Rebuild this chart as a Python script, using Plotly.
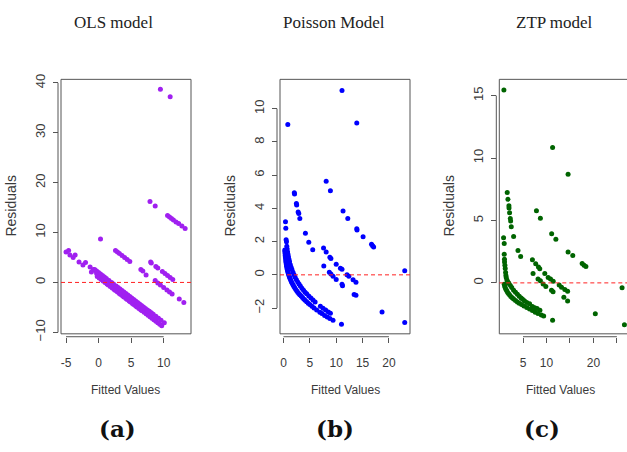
import plotly.graph_objects as go

W, H = 627, 452

# ---------------- data ----------------
titles = ["OLS model", "Poisson Model", "ZTP model"]
panel_labels = ["(a)", "(b)", "(c)"]
x_title = "Fitted Values"
y_title = "Residuals"

ols_fitted = [
    -5.0, -4.6, -4.4, -3.9, -3.6, -3.0, -2.4, -2.0, -1.3, -1.1, -0.8, -0.5, -0.3,
    -0.2, 0.1, 0.4, 0.7, 1.0, 1.3, 1.5, 1.8, 2.1, 2.4, 2.6, 2.9, 3.2, 3.4, 3.7, 3.9, 4.2, 4.4, 4.7, 4.9,
    5.2, 5.4, 5.7, 5.9, 6.2, 6.5, 6.7, 7.0, 7.3, 7.6, 7.9, 8.2, 8.5, 8.8, 9.1, 9.4, 9.7,
    -0.6, -0.3, 0.0, 0.3, 0.6, 0.9, 1.2, 1.6, 2.0, 2.3, 2.7, 3.0, 3.3, 3.6, 3.9, 4.2, 4.5, 4.8, 5.1, 5.4,
    5.7, 6.0, 6.3, 6.6, 6.9, 7.2, 7.5, 7.8, 8.1, 8.4, 8.8, 9.2, 9.6, 10.1,
    0.3, 2.6, 2.9, 3.2, 3.6, 4.0, 4.4, 4.8, 6.5, 6.8, 7.3,
    8.0, 8.1, 8.8, 9.1, 9.8, 10.2, 10.6, 11.0, 11.4,
    8.7, 9.1, 9.5, 10.0, 10.5, 10.9, 11.3, 12.4, 13.1,
    7.9, 8.7, 10.6, 10.9, 11.2, 11.5, 11.9, 12.3, 12.8, 13.3,
    9.5, 11.0,
]
ols_resid = [
    6.1, 6.4, 5.5, 5.0, 5.5, 4.1, 3.5, 4.0, 3.1, 2.1, 2.6, 2.4, 1.8,
    1.2, 0.9, 0.6, 0.3, 0.0, -0.3, -0.5, -0.8, -1.1, -1.4, -1.6, -1.9, -2.2, -2.4, -2.7, -2.9, -3.2, -3.4, -3.7, -3.9,
    -4.2, -4.4, -4.7, -4.9, -5.2, -5.5, -5.7, -6.0, -6.3, -6.6, -6.9, -7.2, -7.5, -7.8, -8.1, -8.4, -8.7,
    2.6, 2.3, 2.0, 1.7, 1.4, 1.1, 0.8, 0.4, 0.0, -0.3, -0.7, -1.0, -1.3, -1.6, -1.9, -2.2, -2.5, -2.8, -3.1, -3.4,
    -3.7, -4.0, -4.3, -4.6, -4.9, -5.2, -5.5, -5.8, -6.1, -6.4, -6.8, -7.2, -7.6, -8.1,
    8.7, 6.4, 6.1, 5.8, 5.4, 5.0, 4.6, 4.2, 2.6, 2.3, 1.5,
    4.1, 3.9, 3.2, 2.9, 2.2, 1.8, 1.4, 1.0, 0.6,
    0.4, -0.1, -0.5, -1.0, -1.5, -1.9, -2.3, -3.3, -4.0,
    16.2, 15.3, 13.4, 13.1, 12.8, 12.5, 12.1, 11.8, 11.3, 10.8,
    38.7, 37.2,
]

pois_fitted = [
    0.25, 0.27, 0.30, 0.33, 0.36, 0.40, 0.45, 0.50, 0.55, 0.60, 0.66, 0.72, 0.80, 0.88, 0.96,
    1.05, 1.15, 1.25, 1.38, 1.5, 1.65, 1.8, 1.95, 2.1, 2.3, 2.5, 2.7, 2.9, 3.1, 3.35,
    3.6, 3.85, 4.1, 4.4, 4.7, 5.0, 5.4, 5.8, 6.3, 6.9, 7.3, 7.8, 8.3, 8.8, 9.4,
    0.38, 0.44, 0.50, 0.57, 0.63, 0.70, 0.78, 0.86, 0.95, 1.05, 1.15, 1.3, 1.45, 1.6, 1.8, 2.0, 2.2,
    2.45, 2.7, 2.95, 3.2, 3.5, 3.8, 4.1, 4.4, 4.8, 5.2, 5.6, 6.0, 7.0, 7.5, 8.0, 8.5, 8.9,
    0.82, 2.05, 2.1, 2.45, 2.5, 2.78, 2.9, 3.1, 4.16, 4.8, 5.55, 7.65, 8.7, 9.0, 9.4, 10.0,
    11.1, 11.2, 13.4, 13.75, 18.7, 23.0,
    7.6, 8.1, 8.8, 9.0, 10.0, 10.8, 11.1, 12.05, 12.4, 13.2, 13.75,
    8.1, 8.9, 11.3, 12.2, 13.9, 13.95, 15.1, 16.7, 16.9, 17.1, 23.0,
    11.1, 13.9,
    11.0,
]
pois_resid = [
    1.50, 1.40, 1.28, 1.17, 1.07, 0.95, 0.82, 0.71, 0.61, 0.52, 0.42, 0.33, 0.22, 0.13, 0.04,
    -0.05, -0.14, -0.22, -0.32, -0.41, -0.51, -0.60, -0.68, -0.76, -0.86, -0.95, -1.04, -1.12, -1.19, -1.28,
    -1.37, -1.45, -1.53, -1.62, -1.71, -1.79, -1.89, -1.99, -2.11, -2.25, -2.33, -2.44, -2.53, -2.63, -2.74,
    3.20, 2.81, 2.12, 2.00, 1.73, 1.55, 1.38, 1.23, 1.08, 0.93, 0.79, 0.61, 0.46, 0.32, 0.15, 0.0, -0.14,
    -0.29, -0.43, -0.55, -0.67, -0.80, -0.92, -1.04, -1.14, -1.28, -1.40, -1.52, -1.63, -1.89, -2.01, -2.12, -2.23, -2.31,
    9.05, 4.95, 4.87, 4.30, 4.20, 3.79, 3.70, 3.40, 2.50, 1.96, 1.51, 0.53, 0.15, 0.05, -0.08, -0.28,
    -0.57, -0.65, -1.18, -1.23, -2.24, -2.87,
    1.61, 1.37, 1.06, 0.98, 0.64, 0.40, 0.34, 0.0, -0.08, -0.30, -0.45,
    5.63, 5.07, 3.84, 3.40, 2.77, 2.70, 2.29, 1.84, 1.76, 1.68, 0.25,
    11.1, 9.15,
    -2.98,
]

ztp_fitted = [
    0.86, 1.0, 1.0, 1.05, 1.07, 1.14, 1.21, 1.29, 1.36, 1.43, 1.57, 1.7, 1.85,
    2.0, 2.3, 2.6, 3.0, 3.4, 3.8, 4.2, 4.6, 4.9, 5.3, 5.8, 6.4, 7.0, 7.5, 8.0, 8.6,
    1.0, 1.1, 1.2, 1.35, 1.5, 1.7, 1.9, 2.15, 2.4, 2.7, 3.0, 3.4, 3.8, 4.2, 4.7, 5.2, 5.8, 6.4,
    7.0, 7.6, 8.2, 8.9, 9.4,
    0.93,
    1.64, 1.79, 2.0, 2.02, 2.14, 2.29, 2.36, 2.5, 3.0, 3.93, 4.5, 7.14, 8.2, 8.7, 9.29, 9.86,
    11.07, 11.4, 13.7, 14.5, 20.4, 26.6,
    7.0, 7.7, 8.29, 8.57, 9.64, 10.36, 10.86, 11.43, 12.7, 13.2, 13.9, 14.5,
    7.86, 8.7, 11.1, 12.0, 14.6, 15.6, 17.6, 18.0, 18.4, 26.1,
    11.3, 14.6,
    11.3,
]
ztp_resid = [
    3.62, 3.15, 2.30, 1.90, 1.68, 1.42, 1.16, 0.83, 0.60, 0.44, 0.23, 0.12, 0.04,
    -0.05, -0.20, -0.37, -0.58, -0.76, -0.92, -1.07, -1.21, -1.32, -1.43, -1.57, -1.68, -1.89, -2.00, -2.05, -2.20,
    -0.10, -0.25, -0.37, -0.50, -0.62, -0.75, -0.86, -0.98, -1.09, -1.20, -1.30, -1.42, -1.53, -1.63, -1.74, -1.86, -1.98, -2.10,
    -2.22, -2.35, -2.46, -2.58, -2.66,
    15.44,
    7.24, 6.70, 6.18, 6.00, 5.61, 5.15, 4.96, 4.50, 3.72, 2.59, 2.12, 0.75, 0.31, 0.18, -0.08, -0.28,
    -0.60, -0.72, -1.16, -1.45, -2.48, -3.36,
    1.86, 1.53, 1.27, 1.14, 0.75, 0.44, 0.31, 0.13, -0.16, -0.34, -0.52, -0.67,
    5.77, 5.17, 3.93, 3.49, 2.48, 2.20, 1.55, 1.42, 1.32, -0.39,
    10.84, 8.71,
    -3.0,
]

ols_xticks = [-5, 0, 5, 10]
ols_yticks = [-10, 0, 10, 20, 30, 40]
pois_xticks = [0, 5, 10, 15, 20]
pois_yticks = [-2, 0, 2, 4, 6, 8, 10]
ztp_xticks = [5, 10, 15, 20, 25]
ztp_xticklabels = ["5", "10", "", "20", ""]
ztp_yticks = [0, 5, 10, 15]

# ---------------- layout helpers (pixel -> paper) ----------------
def fx(px):
    return px / W

def fy(py):
    return 1 - py / H

BOX_TOP, BOX_BOT = 75.7, 338.3
AX_OFF = 3.0
GRAY = "#555555"
TXT = "#3a3a3a"

panels = [
    dict(x=ols_fitted, y=ols_resid, color="#A020F0",
         box=(61, 191), xr=[-5.77, 14.2], yr=[-10.3, 40.7],
         xt=ols_xticks, xtt=[str(v) for v in ols_xticks], yt=ols_yticks,
         title_x=113.5, ytitle_x=11, xtitle_x=125, lab_x=117.5, box_x1=1),
    dict(x=pois_fitted, y=pois_resid, color="#0000FF",
         box=(280, 410), xr=[-0.66, 24.0], yr=[-3.55, 11.77],
         xt=pois_xticks, xtt=[str(v) for v in pois_xticks], yt=pois_yticks,
         title_x=334, ytitle_x=230, xtitle_x=345, lab_x=335, box_x1=1),
    dict(x=ztp_fitted, y=ztp_resid, color="#006400",
         box=(499.3, 627), xr=[-0.05, 27.15], yr=[-4.08, 16.3],
         xt=ztp_xticks, xtt=ztp_xticklabels, yt=ztp_yticks,
         title_x=554, ytitle_x=449, xtitle_x=560, lab_x=542, box_x1=1.05),
]

fig = go.Figure()
shapes = []
annotations = []
layout = dict(
    width=W, height=H, autosize=False,
    margin=dict(l=0, r=0, t=0, b=0, pad=0),
    paper_bgcolor="white", plot_bgcolor="white",
    showlegend=False,
)

tick_font_x = dict(family="Liberation Sans, Arial", size=12, color=TXT)
tick_font_y = dict(family="Liberation Sans, Arial", size=13, color=TXT)

for i, p in enumerate(panels):
    n = "" if i == 0 else str(i + 1)
    xa, ya = "x" + n, "y" + n
    fig.add_trace(go.Scatter(
        x=p["x"], y=p["y"], mode="markers", xaxis=xa, yaxis=ya,
        marker=dict(color=p["color"], size=5, line=dict(width=0)),
        hoverinfo="skip",
    ))
    bl, br = p["box"]
    layout["xaxis" + n] = dict(
        domain=[fx(bl), fx(br)], range=p["xr"], anchor="free", position=fy(BOX_BOT + AX_OFF),
        showline=False, showgrid=False, zeroline=False,
        ticks="outside", ticklen=5, tickwidth=1, tickcolor=GRAY,
        tickmode="array", tickvals=p["xt"], ticktext=p["xtt"], tickfont=tick_font_x,
        ticklabelstandoff=10,
        fixedrange=True,
    )
    layout["yaxis" + n] = dict(
        domain=[fy(BOX_BOT), fy(BOX_TOP)], range=p["yr"], anchor="free", position=fx(bl - AX_OFF),
        showline=False, showgrid=False, zeroline=False,
        ticks="outside", ticklen=5, tickwidth=1, tickcolor=GRAY,
        tickmode="array", tickvals=p["yt"], tickangle=-90, tickfont=tick_font_y,
        ticklabelstandoff=3,
        fixedrange=True,
    )
    shapes.append(dict(type="rect", xref=xa + " domain", yref=ya + " domain",
                       x0=0, x1=p["box_x1"], y0=0, y1=1,
                       line=dict(color=GRAY, width=1), fillcolor="rgba(0,0,0,0)", layer="above"))
    shapes.append(dict(type="line", xref=xa, yref="paper",
                       x0=p["xt"][0], x1=p["xt"][-1], y0=fy(BOX_BOT + AX_OFF), y1=fy(BOX_BOT + AX_OFF),
                       line=dict(color=GRAY, width=1)))
    shapes.append(dict(type="line", xref="paper", yref=ya,
                       x0=fx(bl - AX_OFF), x1=fx(bl - AX_OFF), y0=p["yt"][0], y1=p["yt"][-1],
                       line=dict(color=GRAY, width=1)))
    shapes.append(dict(type="line", xref=xa + " domain", yref=ya, x0=0, x1=1, y0=0, y1=0,
                       line=dict(color="#ff2020", width=1, dash="4px,3px"), layer="above"))
    annotations.append(dict(text=titles[i], xref="paper", yref="paper", x=fx(p["title_x"]), y=fy(17),
                            xanchor="center", yanchor="middle", showarrow=False,
                            font=dict(family="Liberation Serif, Times New Roman, serif", size=17, color="#222222")))
    annotations.append(dict(text=y_title, xref="paper", yref="paper", x=fx(p["ytitle_x"]),
                            y=fy((BOX_TOP + BOX_BOT) / 2), textangle=-90,
                            xanchor="center", yanchor="middle", showarrow=False,
                            font=dict(family="Liberation Sans, Arial", size=14, color=TXT)))
    annotations.append(dict(text=x_title, xref="paper", yref="paper", x=fx(p["xtitle_x"]), y=fy(396),
                            xanchor="center", yanchor="middle", showarrow=False,
                            font=dict(family="Liberation Sans, Arial", size=12, color=TXT)))
    annotations.append(dict(text="<b>" + panel_labels[i] + "</b>", xref="paper", yref="paper",
                            x=fx(p["lab_x"]), y=fy(436),
                            xanchor="center", yanchor="middle", showarrow=False,
                            font=dict(family="DejaVu Serif, serif", size=23, color="#111111")))

layout["shapes"] = shapes
layout["annotations"] = annotations
fig.update_layout(**layout)
fig.write_html("out.html", config={"displayModeBar": False})

# remove the default page margin so figure pixels map 1:1 to the window
with open("out.html", "r", encoding="utf-8") as f:
    html = f.read()
html = html.replace("<head>", "<head><style>html,body{margin:0;padding:0;overflow:hidden;}</style>", 1)
with open("out.html", "w", encoding="utf-8") as f:
    f.write(html)
